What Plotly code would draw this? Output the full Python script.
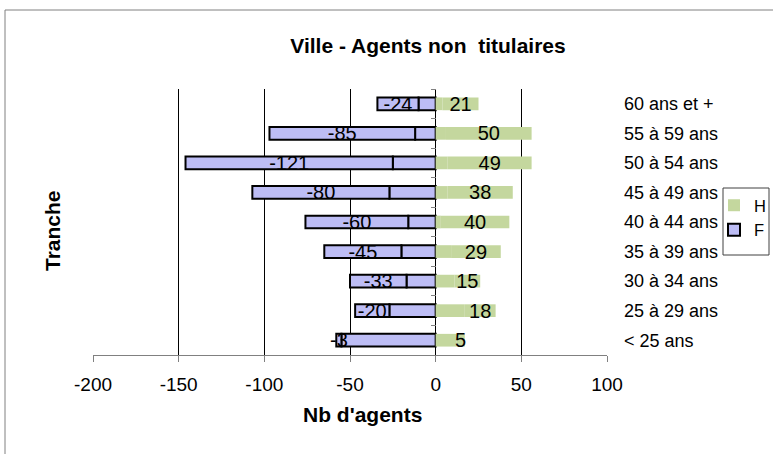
import plotly.graph_objects as go

# age bands, bottom to top
tranches = ["< 25 ans", "25 à 29 ans", "30 à 34 ans", "35 à 39 ans", "40 à 44 ans",
            "45 à 49 ans", "50 à 54 ans", "55 à 59 ans", "60 ans et +"]

# women: labelled outer part and unlabelled inner part (negative side)
f_outer = [-3, -20, -33, -45, -60, -80, -121, -85, -24]
f_inner = [-55, -27, -17, -20, -16, -27, -25, -12, -10]

# men: labelled outer part and unlabelled inner part
h_outer = [5, 18, 15, 29, 40, 38, 49, 50, 21]
h_inner = [12, 17, 11, 9, 3, 7, 7, 6, 4]

x_ticks = [-200, -150, -100, -50, 0, 50, 100]

FONT = "Liberation Sans, Arial, sans-serif"
F_FILL = "#BDBDF5"
H_FILL = "#C4D79E"

fig = go.Figure()
bar_font = dict(family=FONT, size=20, color="black")

fig.add_trace(go.Bar(
    y=tranches, x=f_inner, orientation="h", name="F", showlegend=False,
    marker=dict(color=F_FILL, line=dict(color="black", width=2)),
    hoverinfo="skip",
))
fig.add_trace(go.Bar(
    y=tranches, x=f_outer, orientation="h", name="F", legendrank=2,
    marker=dict(color=F_FILL, line=dict(color="black", width=2)),
    text=[str(v) for v in f_outer], textposition="inside", insidetextanchor="middle",
    constraintext="none", textangle=0, textfont=bar_font,
))
fig.add_trace(go.Bar(
    y=tranches, x=h_inner, orientation="h", name="H", showlegend=False,
    marker=dict(color=H_FILL, line=dict(width=0)),
    hoverinfo="skip",
))
fig.add_trace(go.Bar(
    y=tranches, x=h_outer, orientation="h", name="H", legendrank=1,
    marker=dict(color=H_FILL, line=dict(width=0)),
    text=[str(v) for v in h_outer], textposition="inside", insidetextanchor="middle",
    constraintext="none", textangle=0, textfont=bar_font,
))
# empty helper trace so the tick-only axis at x = 0 gets drawn
fig.add_trace(go.Scatter(x=[None], y=[None], yaxis="y2", showlegend=False,
                         hoverinfo="skip"))

fig.update_layout(
    width=773, height=454,
    barmode="relative", bargap=0.57,
    paper_bgcolor="white", plot_bgcolor="white",
    font=dict(family=FONT, color="black"),
    margin=dict(l=93, r=166, t=89, b=99, autoexpand=False),
    title=dict(text="Ville - Agents non  titulaires", x=428 / 773, xanchor="center",
               y=1 - 46 / 454, yanchor="middle",
               font=dict(family=FONT, size=21, weight="bold", color="black")),
    xaxis=dict(range=[-200, 100], tickvals=x_ticks, ticktext=[str(v) for v in x_ticks],
               showgrid=True, gridcolor="black", gridwidth=1,
               zeroline=True, zerolinecolor="black", zerolinewidth=1,
               showline=True, linecolor="#808080", linewidth=1,
               ticks="outside", ticklen=6, tickcolor="#808080", ticklabelstandoff=6,
               tickfont=dict(family=FONT, size=19), automargin=False),
    yaxis=dict(type="category", categoryorder="array", categoryarray=tranches,
               range=[-0.5, 8.5], side="right", showgrid=False, zeroline=False,
               showline=False, ticks="", ticklabelstandoff=16,
               tickfont=dict(family=FONT, size=18), automargin=False),
    yaxis2=dict(overlaying="y", anchor="free", position=200 / 300, side="left",
                range=[-0.5, 8.5], tickvals=[i - 0.5 for i in range(10)],
                ticks="outside", ticklen=5, tickcolor="#808080",
                showticklabels=False, showgrid=False, zeroline=False, showline=False,
                automargin=False),
    legend=dict(xref="container", yref="container", x=714 / 773, y=1 - 188 / 454,
                xanchor="left", yanchor="top",
                bgcolor="rgba(0,0,0,0)", borderwidth=0,
                font=dict(family=FONT, size=16.5), itemwidth=30, tracegroupgap=0),
    annotations=[
        dict(text="<b>Tranche</b>", xref="paper", yref="paper",
             x=(52 - 93) / 514, y=(355 - 231) / 266, xanchor="center", yanchor="middle",
             textangle=-90, showarrow=False, font=dict(family=FONT, size=21)),
        dict(text="<b>Nb d'agents</b>", xref="paper", yref="paper",
             x=(362 - 93) / 514, y=(355 - 415) / 266, xanchor="center", yanchor="middle",
             showarrow=False, font=dict(family=FONT, size=21)),
    ],
    shapes=[
        # chart frame
        dict(type="rect", xref="paper", yref="paper",
             x0=(5 - 93) / 514, x1=1.5, y0=-0.6, y1=(355 - 10) / 266,
             line=dict(color="#808080", width=1), fillcolor="rgba(0,0,0,0)", layer="below"),
        # legend frame
        dict(type="rect", xref="paper", yref="paper",
             x0=(723 - 93) / 514, x1=(769 - 93) / 514,
             y0=(355 - 255) / 266, y1=(355 - 188) / 266,
             line=dict(color="#404040", width=1), fillcolor="rgba(0,0,0,0)", layer="above"),
    ],
)

fig.write_html("out.html", config={"displayModeBar": False},
               post_script="document.body.style.margin='0';")
